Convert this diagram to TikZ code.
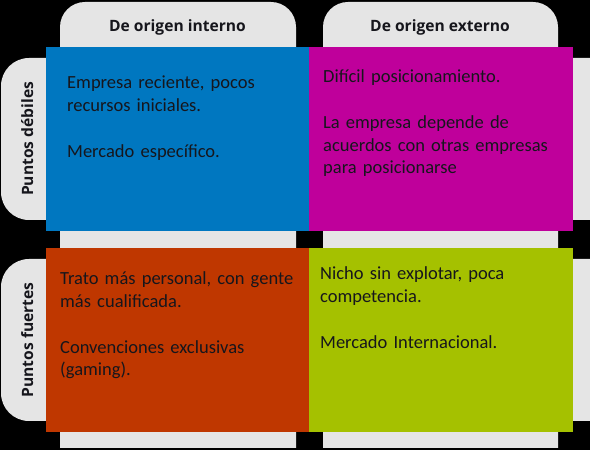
\documentclass[tikz,border=0pt]{standalone}
\usepackage{fontspec}
\setmainfont{Carlito}
\newfontfamily\titulofont{Open Sans}
\usepackage{tikz}
\definecolor{AzulInterno}{RGB}{0,119,192}
\definecolor{MagentaExterno}{RGB}{191,0,155}
\definecolor{NaranjaFuerte}{RGB}{191,55,0}
\definecolor{VerdeExterno}{RGB}{165,193,0}
\definecolor{GrisPestana}{RGB}{229,229,229}
\definecolor{TextoOscuro}{RGB}{22,22,28}

\begin{document}
\begin{tikzpicture}[x=1pt,y=1pt,
  cuadrante/.style={minimum width=263.5pt,minimum height=184pt,inner sep=0pt,anchor=north west},
  texto/.style={anchor=base west,inner sep=0pt,text width=255pt,align=left,text=TextoOscuro,
    font=\fontsize{18.5}{22.7}\selectfont},
  titulo/.style={anchor=base,inner sep=0pt,text=TextoOscuro,
    font=\titulofont\bfseries\fontsize{15.6}{18}\selectfont}]
  \useasboundingbox (0,0) rectangle (590,450);
  \fill[black] (0,0) rectangle (590,450);
  % pestanas de columna y de fila
  \fill[GrisPestana] (60,2) -- (60,423) arc[start angle=180,end angle=90,radius=25]
    -- (271,448) arc[start angle=90,end angle=0,radius=25] -- (296,2) -- cycle;
  \fill[GrisPestana] (323,2) -- (323,423) arc[start angle=180,end angle=90,radius=25]
    -- (533,448) arc[start angle=90,end angle=0,radius=25] -- (558,2) -- cycle;
  \fill[GrisPestana] (590,230) -- (29,230) arc[start angle=270,end angle=180,radius=28]
    -- (1,364) arc[start angle=180,end angle=90,radius=28] -- (590,392) -- cycle;
  \fill[GrisPestana] (590,29) -- (29,29) arc[start angle=270,end angle=180,radius=28]
    -- (1,163) arc[start angle=180,end angle=90,radius=28] -- (590,191) -- cycle;
  \node[titulo] (tInterno) at (177.5,418.5) {De origen interno};
  \node[titulo] (tExterno) at (440,418.5) {De origen externo};
  \node[titulo,rotate=90] (pDebiles) at (33,311) {Puntos débiles};
  \node[titulo,rotate=90] (pFuertes) at (33,110) {Puntos fuertes};
  % cuadrantes
  \node[cuadrante,fill=AzulInterno] (debInt) at (46,403) {};
  \node[cuadrante,fill=MagentaExterno] (debExt) at (309,403) {};
  \node[cuadrante,fill=NaranjaFuerte] (fueInt) at (46,202) {};
  \node[cuadrante,fill=VerdeExterno] (fueExt) at (309,202) {};
  \node[texto] (txtDebInt) at (67,361)
    {Empresa reciente, pocos\\recursos iniciales.\\[22.7pt]Mercado específico.};
  \node[texto] (txtDebExt) at (323,367)
    {Difícil posicionamiento.\\[22.7pt]La empresa depende de\\acuerdos con otras empresas\\para posicionarse};
  \node[texto] (txtFueInt) at (60,165)
    {Trato más personal, con gente\\más cualificada.\\[22.7pt]Convenciones exclusivas\\(gaming).};
  \node[texto] (txtFueExt) at (320,170)
    {Nicho sin explotar, poca\\competencia.\\[22.7pt]Mercado Internacional.};
\end{tikzpicture}
\end{document}
